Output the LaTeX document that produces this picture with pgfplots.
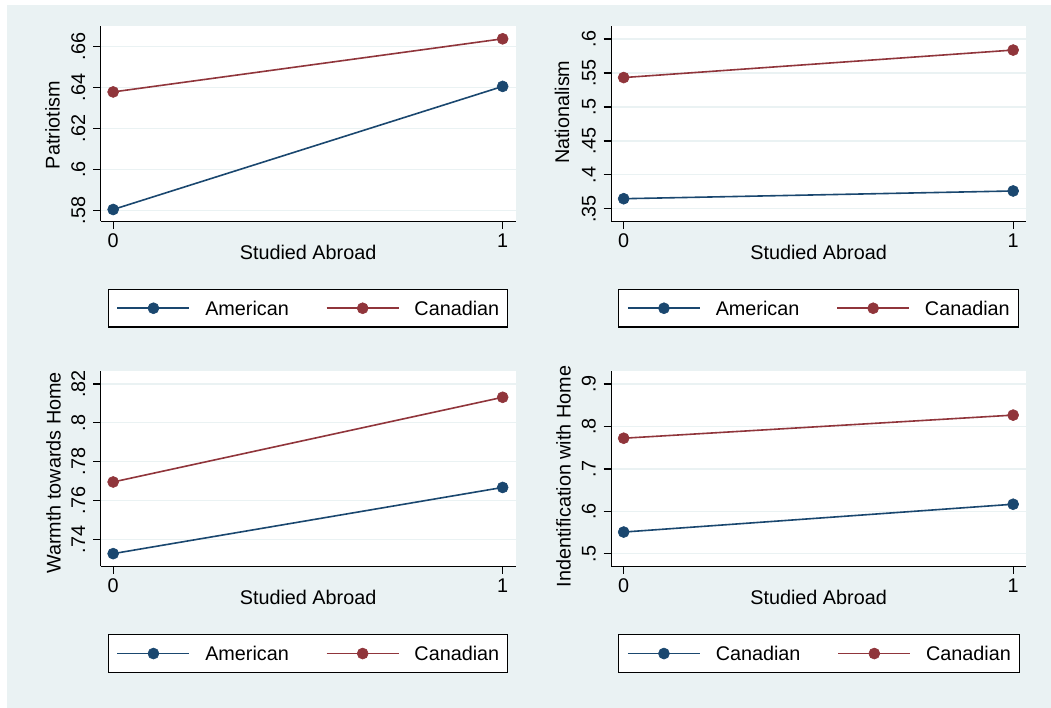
\documentclass[border=0pt]{standalone}
\usepackage{fontspec}
\setmainfont{Liberation Sans}
\usepackage{pgfplots}
\pgfplotsset{compat=1.18}
\usetikzlibrary{calc}
\definecolor{bgc}{RGB}{234,242,243}
\definecolor{gridc}{RGB}{234,242,243}
\definecolor{snavy}{RGB}{26,71,111}
\definecolor{smaroon}{RGB}{144,53,59}
\newcommand\fs{\fontsize{19.8pt}{23pt}\selectfont}
\pgfplotsset{
  panel/.style={
    scale only axis, width=414.8pt, height=195.3pt, anchor=south west,
    xmin=-0.032, xmax=1.033,
    axis x line*=bottom, axis y line*=left,
    axis line style={-, line width=1.3pt, black},
    axis background/.style={fill=white},
    tick align=outside, major tick length=7.5pt,
    every tick/.style={black, line width=1.3pt},
    ymajorgrids, grid style={gridc, line width=1.3pt},
    xtick={0,1}, xticklabels={\mbox{0},\mbox{1}},
    tick label style={font=\fs},
    label style={font=\fs},
    xticklabel style={anchor=base}, xticklabel shift=19pt,
    yticklabel style={rotate=90, anchor=base}, yticklabel shift=8pt,
    xlabel={Studied Abroad},
    xlabel style={at={(axis description cs:0.5,0)}, anchor=base, yshift=-38pt},
    legend columns=2,
    legend cell align=left,
    legend style={at={(axis description cs:0,0)}, anchor=north west,
      xshift=6.8pt, yshift=-67.5pt, draw=black, line width=1.3pt, fill=white,
      inner xsep=8.5pt, inner ysep=11.8pt, font=\fs,
      nodes={inner sep=0pt, text height=14.2pt, text depth=0pt},
      /tikz/every odd column/.append style={column sep=15pt},
      /tikz/every even column/.append style={column sep=37pt}},
    legend image code/.code={\draw[mark repeat=2,mark phase=2,#1] plot coordinates {(0pt,0pt) (36pt,0pt) (72pt,0pt)};},
    clip=false,
  },
  am/.style={snavy, line width=1.6pt, mark=*, mark size=5.5pt, mark options={solid, fill=snavy, draw=snavy, line width=0.6pt}},
  ca/.style={smaroon, line width=1.6pt, mark=*, mark size=5.5pt, mark options={solid, fill=smaroon, draw=smaroon, line width=0.6pt}},
}
\begin{document}
\begin{tikzpicture}
\fill[white] (0pt,0pt) rectangle (1051pt,708pt);
\fill[bgc] (7pt,0pt) rectangle (1051pt,703pt);

% Panel 1
\begin{axis}[panel, at={(100.7pt,486.8pt)},
  ymin=0.5749, ymax=0.6701,
  ytick={0.58,0.6,0.62,0.64,0.66},
  yticklabels={\mbox{.58},\mbox{.6},\mbox{.62},\mbox{.64},\mbox{.66}},
  ylabel={Patriotism},
  ylabel style={at={($(axis description cs:0,0.492)+(-41pt,0pt)$)}, anchor=base}]
\addplot[am] coordinates {(0,0.5806) (1,0.6406)};
\addplot[ca] coordinates {(0,0.6379) (1,0.6638)};
\legend{American,Canadian}
\end{axis}

% Panel 2
\begin{axis}[panel, at={(611.2pt,486.8pt)},
  ymin=0.3317, ymax=0.6193,
  ytick={0.35,0.4,0.45,0.5,0.55,0.6},
  yticklabels={\mbox{.35},\mbox{.4},\mbox{.45},\mbox{.5},\mbox{.55},\mbox{.6}},
  ylabel={Nationalism},
  ylabel style={at={($(axis description cs:0,0.558)+(-42pt,0pt)$)}, anchor=base}]
\addplot[am] coordinates {(0,0.3648) (1,0.3762)};
\addplot[ca] coordinates {(0,0.5432) (1,0.5837)};
\legend{American,Canadian}
\end{axis}

% Panel 3
\begin{axis}[panel, at={(100.7pt,141.5pt)},
  ymin=0.7262, ymax=0.8265,
  ytick={0.74,0.76,0.78,0.8,0.82},
  yticklabels={\mbox{.74},\mbox{.76},\mbox{.78},\mbox{.8},\mbox{.82}},
  ylabel={Warmth towards Home},
  ylabel style={at={($(axis description cs:0,0.479)+(-40pt,0pt)$)}, anchor=base}]
\addplot[am] coordinates {(0,0.7328) (1,0.7668)};
\addplot[ca] coordinates {(0,0.7696) (1,0.8131)};
\legend{American,Canadian}
\end{axis}

% Panel 4
\begin{axis}[panel, at={(611.2pt,141.5pt)},
  ymin=0.4702, ymax=0.930,
  ytick={0.5,0.6,0.7,0.8,0.9},
  yticklabels={\mbox{.5},\mbox{.6},\mbox{.7},\mbox{.8},\mbox{.9}},
  ylabel={Indentification with Home},
  ylabel style={at={($(axis description cs:0,0.461)+(-40.5pt,0pt)$)}, anchor=base}]
\addplot[am] coordinates {(0,0.5513) (1,0.6168)};
\addplot[ca] coordinates {(0,0.7722) (1,0.8266)};
\legend{Canadian,Canadian}
\end{axis}

\pgfresetboundingbox
\path (0pt,0pt) rectangle (1051pt,708pt);
\end{tikzpicture}
\end{document}
